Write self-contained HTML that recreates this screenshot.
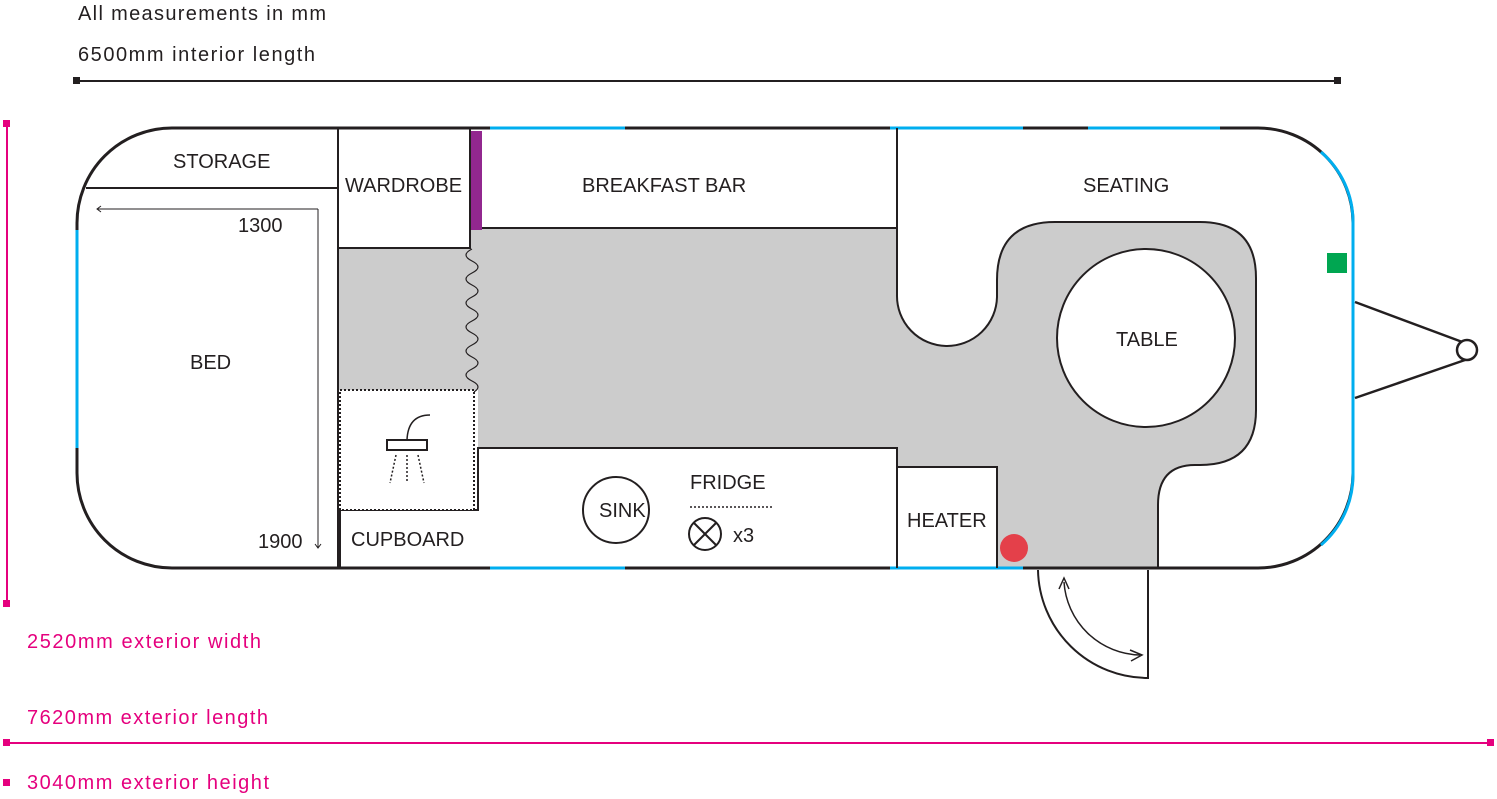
<!DOCTYPE html>
<html><head><meta charset="utf-8"><style>
html,body{margin:0;padding:0;background:#fff;}
svg{display:block;}
text{font-family:"Liberation Sans",sans-serif;font-size:20px;fill:#231f20;}
.m{fill:#e5007e;}
</style></head><body>
<svg width="1497" height="799" viewBox="0 0 1497 799" xmlns="http://www.w3.org/2000/svg">
<text x="78" y="20" textLength="248" lengthAdjust="spacing">All measurements in mm</text>
<text x="78" y="61" textLength="237" lengthAdjust="spacing">6500mm interior length</text>
<line x1="77" y1="81" x2="1337" y2="81" stroke="#231f20" stroke-width="2"/>
<rect x="73" y="77" width="7" height="7" fill="#231f20"/><rect x="1334" y="77" width="7" height="7" fill="#231f20"/>

<line x1="7" y1="124" x2="7" y2="603" stroke="#e5007e" stroke-width="2"/>
<rect x="3" y="120" width="7" height="7" fill="#e5007e"/><rect x="3" y="600" width="7" height="7" fill="#e5007e"/>
<text class="m" x="27" y="648" textLength="234" lengthAdjust="spacing">2520mm exterior width</text>
<text class="m" x="27" y="724" textLength="241" lengthAdjust="spacing">7620mm exterior length</text>
<line x1="6" y1="743" x2="1491" y2="743" stroke="#e5007e" stroke-width="2"/>
<rect x="3" y="739" width="7" height="7" fill="#e5007e"/><rect x="1487" y="739" width="7" height="7" fill="#e5007e"/>
<rect x="3" y="779" width="7" height="7" fill="#e5007e"/>
<text class="m" x="27" y="789" textLength="242" lengthAdjust="spacing">3040mm exterior height</text>

<path d="M338 248 H470 V228 H897 V295 A50 50 0 0 0 997 297 V280 Q997 222 1055 222 H1200 Q1256 222 1256 278 V410 Q1256 465 1200 465 H1195 Q1158 465 1158 505 V568 H997 V467 H897 V448 H478 V390 H338 Z" fill="#cccccc"/>
<path d="M897 228 V295 A50 50 0 0 0 997 297 V280 Q997 222 1055 222 H1200 Q1256 222 1256 278 V410 Q1256 465 1200 465 H1195 Q1158 465 1158 505 V568" fill="none" stroke="#231f20" stroke-width="2"/>

<rect x="77" y="128" width="1276" height="440" rx="95" ry="95" fill="none" stroke="#231f20" stroke-width="3"/>
<g stroke="#00aeef" stroke-width="3" fill="none">
<line x1="490" y1="128" x2="625" y2="128"/><line x1="890" y1="128" x2="1023" y2="128"/><line x1="1088" y1="128" x2="1220" y2="128"/>
<line x1="490" y1="568" x2="625" y2="568"/><line x1="890" y1="568" x2="1023" y2="568"/>
<line x1="77" y1="230" x2="77" y2="448"/>
<path d="M1321 152 A92 92 0 0 1 1353 222 V475 A92 92 0 0 1 1321 545"/>
</g>
<g stroke="#231f20" stroke-width="2.5" fill="none">
<line x1="1355" y1="302" x2="1465" y2="343"/><line x1="1355" y1="398" x2="1465" y2="360"/>
<circle cx="1467" cy="350" r="10" fill="#fff"/>
</g>
<rect x="1327" y="253" width="20" height="20" fill="#00a651"/>

<g stroke="#231f20" stroke-width="2" fill="none">
<line x1="86" y1="188" x2="338" y2="188"/>
<line x1="338" y1="128" x2="338" y2="568"/>
<line x1="97" y1="209" x2="318" y2="209" stroke-width="1"/>
<line x1="318" y1="209" x2="318" y2="548" stroke-width="1"/>
<path d="M338 248 H470 V128"/>
<path d="M478 228 H897 V128"/>
<path d="M340 568 V510 H478 V448 H897 V568"/>
<path d="M897 467 H997 V568"/>
<path d="M1038 570 A110 110 0 0 0 1148 678 V570"/>
<path d="M1064 582 A78 78 0 0 0 1140 655" stroke-width="1.5"/>
<circle cx="616" cy="510" r="33"/>
<circle cx="705" cy="534" r="16"/>
<line x1="694" y1="523" x2="716" y2="545"/><line x1="716" y1="523" x2="694" y2="545"/>
</g>
<path d="M101 206 L97 209 L101 212 M315 544 L318 548 L321 544" fill="none" stroke="#231f20" stroke-width="1"/>
<path d="M1059 589 L1064 578 L1069 589 M1130 650 L1142 655 L1131 661" fill="none" stroke="#231f20" stroke-width="1.5"/>
<rect x="471" y="131" width="11" height="99" fill="#92278f"/>
<path d="M472 249 q-12 6 0 12 q12 6 0 12 q-12 6 0 12 q12 6 0 12 q-12 6 0 12 q12 6 0 12 q-12 6 0 12 q12 6 0 12 q-12 6 0 12 q12 6 0 12 q-12 6 0 12 q12 6 0 12" fill="none" stroke="#231f20" stroke-width="1.2"/>
<rect x="340" y="390" width="134" height="120" fill="#fff" stroke="#231f20" stroke-width="2" stroke-dasharray="2 2"/>
<rect x="387" y="440" width="40" height="10" fill="none" stroke="#231f20" stroke-width="2"/>
<path d="M407 440 Q408 415 430 415" fill="none" stroke="#231f20" stroke-width="1.5"/>
<g stroke="#231f20" stroke-width="1.5" stroke-dasharray="2 2"><line x1="396" y1="455" x2="390" y2="483"/><line x1="407" y1="455" x2="407" y2="483"/><line x1="418" y1="455" x2="424" y2="483"/></g>
<line x1="690" y1="507" x2="772" y2="507" stroke="#231f20" stroke-width="1.5" stroke-dasharray="2 2"/>
<circle cx="1014" cy="548" r="14" fill="#e4404a"/>

<text x="173" y="168">STORAGE</text>
<text x="345" y="192">WARDROBE</text>
<text x="582" y="192">BREAKFAST BAR</text>
<text x="1083" y="192">SEATING</text>
<text x="238" y="232">1300</text>
<text x="190" y="369">BED</text>
<text x="258" y="548">1900</text>
<text x="351" y="546">CUPBOARD</text>
<text x="599" y="517">SINK</text>
<text x="690" y="489">FRIDGE</text>
<text x="733" y="542">x3</text>
<text x="907" y="527">HEATER</text>
<circle cx="1146" cy="338" r="89" fill="#fff" stroke="#231f20" stroke-width="2"/>
<text x="1116" y="346">TABLE</text>
</svg>
</body></html>
